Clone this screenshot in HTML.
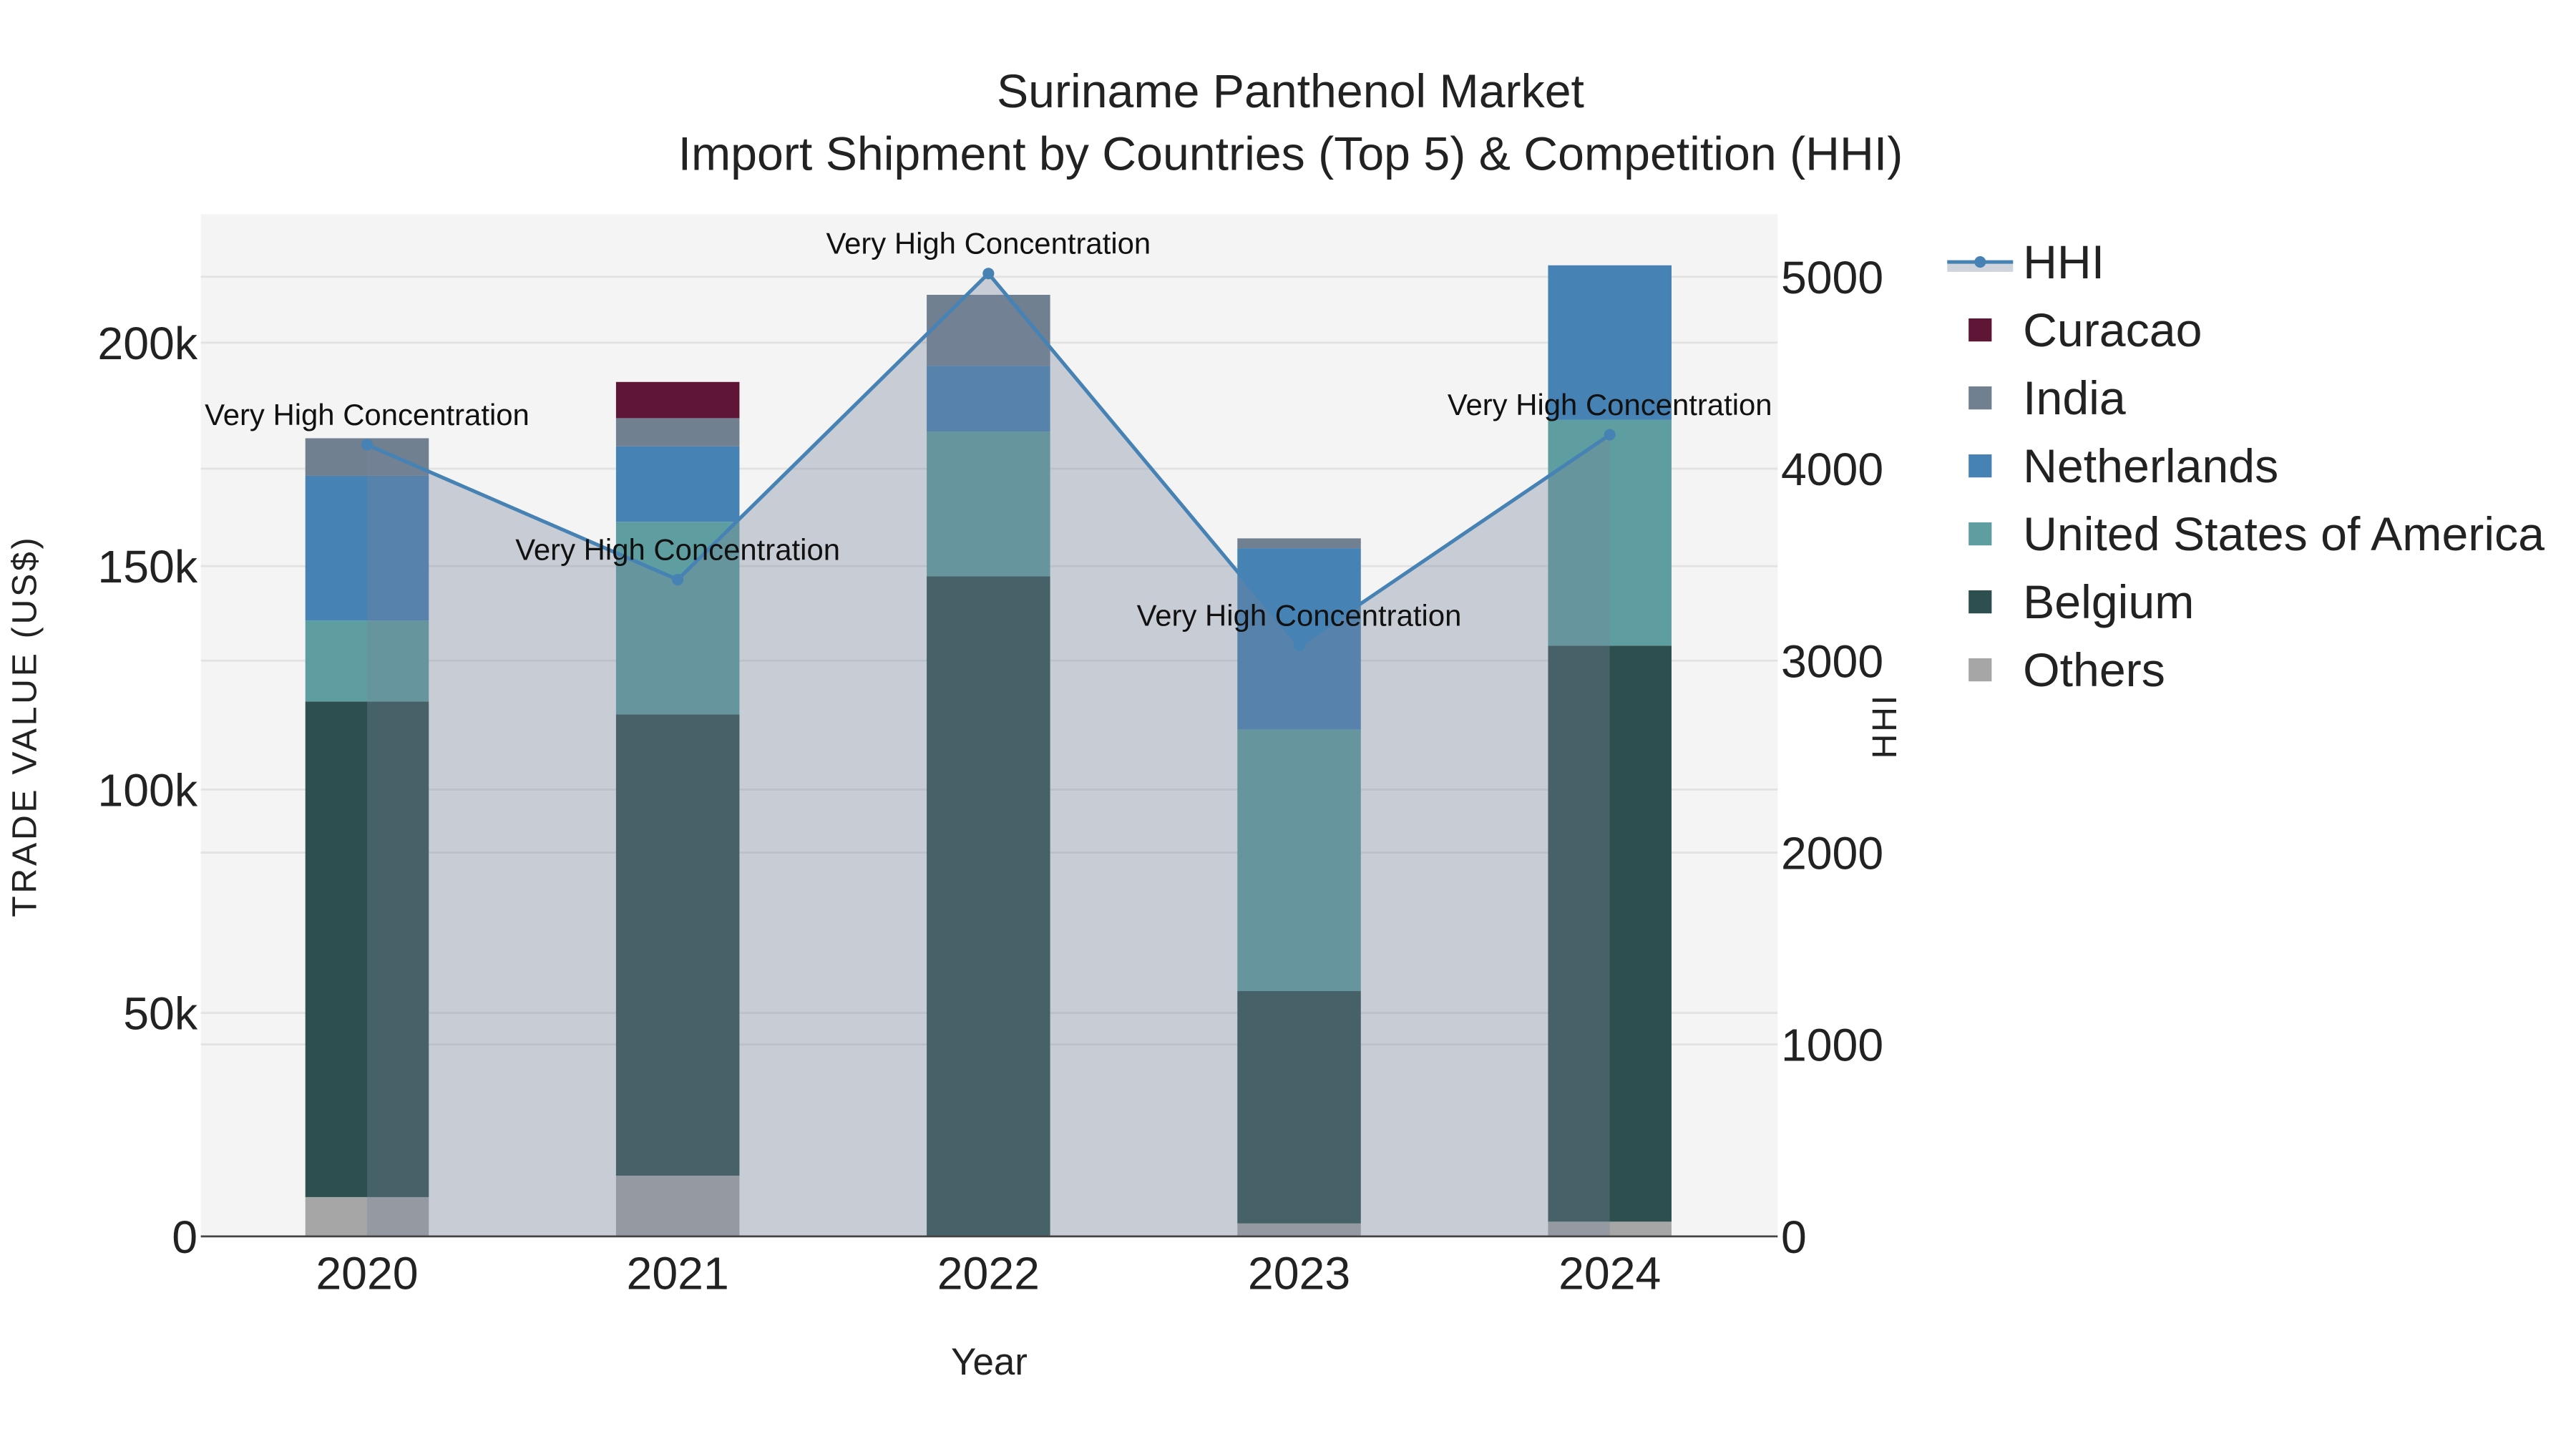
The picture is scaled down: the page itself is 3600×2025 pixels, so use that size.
<!DOCTYPE html>
<html><head><meta charset="utf-8"><style>
html,body{margin:0;padding:0;background:#fff;}
svg{display:block;font-family:"Liberation Sans",Arial,sans-serif;}
</style></head><body>
<svg id="chart" width="3600" height="2025" viewBox="0 0 1565 880" xmlns="http://www.w3.org/2000/svg">
<rect x="0" y="0" width="1565" height="880" fill="#fff"/>
<rect x="122" y="130" width="958" height="621" fill="#f4f4f4"/>
<g id="grid"></g>
<g id="bars"></g>
<path id="hhiFill" fill="rgba(118,133,155,0.35)" stroke="none"/>
<polyline id="hhiLine" fill="none" stroke="#4682b4" stroke-width="2.2"/>
<g id="marks"></g>
<line x1="122" y1="751" x2="1080" y2="751" stroke="#444" stroke-width="1.2"/>
<g id="ticks" font-size="28" fill="#222"></g>
<text x="784" y="65" font-size="28.8" text-anchor="middle" fill="#222">Suriname Panthenol Market</text>
<text x="784" y="103" font-size="28.8" text-anchor="middle" fill="#222">Import Shipment by Countries (Top 5) &amp; Competition (HHI)</text>
<text transform="translate(22,441) rotate(-90)" font-size="21" letter-spacing="1.6" text-anchor="middle" fill="#222">TRADE VALUE (US$)</text>
<text transform="translate(1152,441) rotate(-90)" font-size="21" letter-spacing="1.2" text-anchor="middle" fill="#222">HHI</text>
<text x="601" y="835" font-size="23" text-anchor="middle" fill="#222">Year</text>
<g id="legend" font-size="28.8" fill="#222"></g>
</svg>
<script>
const years = ["2020","2021","2022","2023","2024"];
const others = [8.8, 13.6, 0, 2.9, 3.3];
const belgium = [110.9, 103.2, 147.7, 52.0, 128.9];
const usa = [18.1, 43.1, 32.4, 58.5, 50.5];
const netherlands = [32.4, 16.9, 14.7, 40.6, 34.6];
const india = [8.4, 6.3, 15.9, 2.2, 0];
const curacao = [0, 8.1, 0, 0, 0];
const hhi = [4125, 3422, 5017, 3079, 4177];
const leftTicks = [0, 50, 100, 150, 200];
const leftTickLabels = ["0", "50k", "100k", "150k", "200k"];
const rightTicks = [0, 1000, 2000, 3000, 4000, 5000];
const annotationText = "Very High Concentration";

const NS = "http://www.w3.org/2000/svg";
const yL = v => 751 - v * 2.715;
const yR = v => 751 - v * 0.1166;
const xC = i => 223 + i * 188.75;
const BW = 75;
function mk(tag, attrs, parent) {
  const e = document.createElementNS(NS, tag);
  for (const k in attrs) e.setAttribute(k, attrs[k]);
  parent.appendChild(e);
  return e;
}
const grid = document.getElementById("grid");
leftTicks.slice(1).forEach(t => {
  const l = mk("line", {x1:122, x2:1080, y1:yL(t), y2:yL(t), stroke:"#e2e2e2", "stroke-width":1.2}, grid);
  
  
});
rightTicks.slice(1).forEach(t => {
  const l = mk("line", {x1:122, x2:1080, y1:yR(t), y2:yR(t), stroke:"#e2e2e2", "stroke-width":1.2}, grid);
  
  
});
const series = [
  {name:"others", vals:others, color:"#a6a6a6"},
  {name:"belgium", vals:belgium, color:"#2e4f4f"},
  {name:"usa", vals:usa, color:"#5f9ea0"},
  {name:"netherlands", vals:netherlands, color:"#4682b4"},
  {name:"india", vals:india, color:"#708090"},
  {name:"curacao", vals:curacao, color:"#5f1536"}
];
const bars = document.getElementById("bars");
years.forEach((y, i) => {
  let base = 0;
  series.forEach(s => {
    const v = s.vals[i];
    if (v > 0) {
      const r = mk("rect", {x:xC(i)-BW/2, y:yL(base+v), width:BW, height:yL(base)-yL(base+v), fill:s.color}, bars);
      
      
    }
    base += v;
  });
});
const pts = hhi.map((v, i) => [xC(i), yR(v)]);
document.getElementById("hhiLine").setAttribute("points", pts.map(p => p.join(",")).join(" "));
document.getElementById("hhiFill").setAttribute("d",
  "M" + pts[0][0] + ",751 " + pts.map(p => "L" + p[0] + "," + p[1]).join(" ") + " L" + pts[pts.length-1][0] + ",751Z");
const marks = document.getElementById("marks");
pts.forEach((p, i) => {
  const c = mk("circle", {cx:p[0], cy:p[1], r:3.5, fill:"#4682b4"}, marks);
  
  
  const t = mk("text", {x:p[0], y:p[1]-12, "font-size":18.2, "text-anchor":"middle", fill:"#111"}, marks);
  t.textContent = annotationText;
  
  
});
const ticks = document.getElementById("ticks");
leftTicks.forEach((t, i) => {
  const e = mk("text", {x:120, y:yL(t)+10, "text-anchor":"end"}, ticks);
  e.textContent = leftTickLabels[i];
  
  
});
rightTicks.forEach(t => {
  const e = mk("text", {x:1082, y:yR(t)+10, "text-anchor":"start"}, ticks);
  e.textContent = String(t);
  
  
});
years.forEach((y, i) => {
  const e = mk("text", {x:xC(i), y:783, "text-anchor":"middle"}, ticks);
  e.textContent = y;
  
  
});
const legend = document.getElementById("legend");
const legendItems = [
  {label:"HHI", color:"#4682b4"},
  {label:"Curacao", color:"#5f1536"},
  {label:"India", color:"#708090"},
  {label:"Netherlands", color:"#4682b4"},
  {label:"United States of America", color:"#5f9ea0"},
  {label:"Belgium", color:"#2e4f4f"},
  {label:"Others", color:"#a6a6a6"}
];
legendItems.forEach((it, i) => {
  const cy = 159 + i * 41.3;
  if (i === 0) {
    const b = mk("rect", {x:1183, y:cy, width:40, height:6, fill:"rgba(118,133,155,0.35)"}, legend);
    
    
    const l = mk("line", {x1:1183, x2:1223, y1:cy, y2:cy, stroke:"#4682b4", "stroke-width":2.2}, legend);
    
    
    const c = mk("circle", {cx:1203, cy:cy, r:3.5, fill:"#4682b4"}, legend);
    
    
  } else {
    const r = mk("rect", {x:1196, y:cy-7, width:14, height:14, fill:it.color}, legend);
    
    
  }
  const t = mk("text", {x:1229, y:cy+10}, legend);
  t.textContent = it.label;
  
  
});
</script>
</body></html>
